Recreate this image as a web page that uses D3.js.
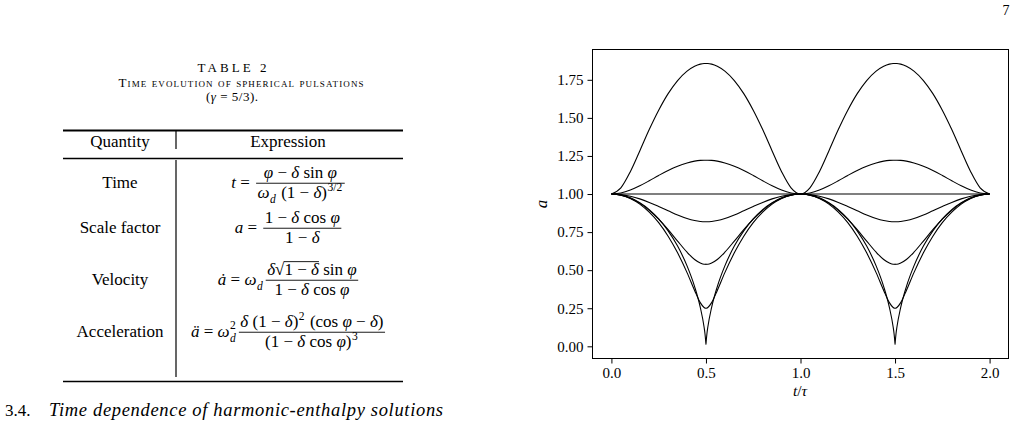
<!DOCTYPE html>
<html>
<head>
  <meta charset="UTF-8">
  <style>
    body { margin: 0; background: #fff; }
    svg text { font-family: "Liberation Serif", "Times New Roman", serif; fill: #000; }
  </style>
</head>
<body>
<div id="page_div"></div>
<script src="https://d3js.org/d3.v7.min.js"></script>
<script>

// ---- chart data: scale factor a against t/tau, one period ----
const tGrid = [0, 0.05, 0.1, 0.15, 0.2, 0.25, 0.3, 0.35, 0.4, 0.44, 0.47, 0.49, 0.495, 0.499, 0.5,
               0.501, 0.505, 0.51, 0.53, 0.56, 0.6, 0.65, 0.7, 0.75, 0.8, 0.85, 0.9, 0.95, 1];
const periods = [0, 1];

const aDelta030 = [1, 1.041, 1.147, 1.283, 1.423, 1.550, 1.659, 1.745, 1.807, 1.839, 1.853, 1.857, 1.857, 1.857, 1.857,
                   1.857, 1.857, 1.857, 1.853, 1.839, 1.807, 1.745, 1.659, 1.550, 1.423, 1.283, 1.147, 1.041, 1];
const aDelta010 = [1, 1.007, 1.026, 1.054, 1.087, 1.122, 1.155, 1.183, 1.204, 1.216, 1.221, 1.222, 1.222, 1.222, 1.222,
                   1.222, 1.222, 1.222, 1.221, 1.216, 1.204, 1.183, 1.155, 1.122, 1.087, 1.054, 1.026, 1.007, 1];
const aDelta000 = [1, 1, 1, 1, 1, 1, 1, 1, 1, 1, 1, 1, 1, 1, 1,
                   1, 1, 1, 1, 1, 1, 1, 1, 1, 1, 1, 1, 1, 1];
const aDeltaM010 = [1, 0.996, 0.985, 0.968, 0.945, 0.918, 0.890, 0.862, 0.839, 0.826, 0.820, 0.818, 0.818, 0.818, 0.818,
                    0.818, 0.818, 0.818, 0.820, 0.826, 0.839, 0.862, 0.890, 0.918, 0.945, 0.968, 0.985, 0.996, 1];
const aDeltaM030 = [1, 0.993, 0.973, 0.940, 0.893, 0.835, 0.766, 0.691, 0.618, 0.570, 0.547, 0.539, 0.539, 0.539, 0.538,
                    0.539, 0.539, 0.539, 0.547, 0.570, 0.618, 0.691, 0.766, 0.835, 0.893, 0.940, 0.973, 0.993, 1];
const aDeltaM060 = [1, 0.993, 0.971, 0.934, 0.881, 0.812, 0.723, 0.614, 0.484, 0.367, 0.287, 0.255, 0.251, 0.250, 0.250,
                    0.250, 0.251, 0.255, 0.287, 0.367, 0.484, 0.614, 0.723, 0.812, 0.881, 0.934, 0.971, 0.993, 1];
const aDeltaM100 = [1, 0.994, 0.975, 0.943, 0.898, 0.837, 0.758, 0.658, 0.528, 0.392, 0.256, 0.127, 0.081, 0.028, 0.012,
                    0.028, 0.081, 0.127, 0.256, 0.392, 0.528, 0.658, 0.758, 0.837, 0.898, 0.943, 0.975, 0.994, 1];
const curves = [aDelta030, aDelta010, aDelta000, aDeltaM010, aDeltaM030, aDeltaM060, aDeltaM100];

const xTicks = [0, 0.5, 1, 1.5, 2];
const yTicks = [0, 0.25, 0.5, 0.75, 1, 1.25, 1.5, 1.75];

// ---- table text ----
const pageNumber = "7";
const tableTitle = "TABLE 2";
const tableCaption = "Time evolution of spherical pulsations";
const headers = ["Quantity", "Expression"];
const rowNames = ["Time", "Scale factor", "Velocity", "Acceleration"];
const sectionNumber = "3.4.";
const sectionTitle = "Time dependence of harmonic-enthalpy solutions";

// math pieces: {t, i} text (i = italic), {sub}/{sup} scripts, {sqrt: [...]}
const rowMath = [
  { lhs: [{t: "t", i: 1}, {t: " = "}],
    num: [{t: "φ", i: 1}, {t: " − "}, {t: "δ", i: 1}, {t: " sin "}, {t: "φ", i: 1}],
    den: [{t: "ω", i: 1}, {sub: "d"}, {t: " (1 − "}, {t: "δ", i: 1}, {t: ")"}, {sup: "3/2"}] },
  { lhs: [{t: "a", i: 1}, {t: " = "}],
    num: [{t: "1 − "}, {t: "δ", i: 1}, {t: " cos "}, {t: "φ", i: 1}],
    den: [{t: "1 − "}, {t: "δ", i: 1}] },
  { lhs: [{t: "ȧ", i: 1}, {t: " = "}, {t: "ω", i: 1}, {sub: "d"}],
    num: [{t: "δ", i: 1}, {sqrt: [{t: "1 − "}, {t: "δ", i: 1}]}, {t: " sin "}, {t: "φ", i: 1}],
    den: [{t: "1 − "}, {t: "δ", i: 1}, {t: " cos "}, {t: "φ", i: 1}] },
  { lhs: [{t: "ä", i: 1}, {t: " = "}, {t: "ω", i: 1}, {sub: "d", sup: "2"}],
    num: [{t: "δ", i: 1}, {t: " (1 − "}, {t: "δ", i: 1}, {t: ")"}, {sup: "2"}, {t: " (cos "}, {t: "φ", i: 1}, {t: " − "}, {t: "δ", i: 1}, {t: ")"}],
    den: [{t: "(1 − "}, {t: "δ", i: 1}, {t: " cos "}, {t: "φ", i: 1}, {t: ")"}, {sup: "3"}] }
];

const width = 1023, height = 423;
const fs = 17;

let svg = d3.select("#page_div")
    .append("svg")
    .attr("width", width)
    .attr("height", height)
    .attr("font-family", "Liberation Serif, serif");

// page number
svg.append("text").attr("x", 1006).attr("y", 15).attr("text-anchor", "middle")
    .attr("font-size", 14).text(pageNumber);

// ---------- table ----------
let table = svg.append("g").attr("id", "table");

table.append("text").attr("x", 232).attr("y", 72).attr("text-anchor", "middle")
    .attr("font-size", 13).attr("textLength", 69).attr("lengthAdjust", "spacing").text(tableTitle);
table.append("text").attr("x", 241).attr("y", 86.5).attr("text-anchor", "middle")
    .attr("font-size", 13).attr("textLength", 245).attr("lengthAdjust", "spacing")
    .style("font-variant", "small-caps").text(tableCaption);
let gam = table.append("text").attr("x", 232).attr("y", 101).attr("text-anchor", "middle")
    .attr("font-size", 13).attr("textLength", 52).attr("lengthAdjust", "spacing");
gam.append("tspan").text("(");
gam.append("tspan").attr("font-style", "italic").text("γ");
gam.append("tspan").text(" = 5/3).");

// rules
table.append("line").attr("x1", 63).attr("x2", 403).attr("y1", 130.5).attr("y2", 130.5)
    .attr("stroke", "#000").attr("stroke-width", 2);
table.append("line").attr("x1", 63).attr("x2", 403).attr("y1", 158.5).attr("y2", 158.5)
    .attr("stroke", "#000").attr("stroke-width", 1.3);
table.append("line").attr("x1", 63).attr("x2", 403).attr("y1", 381.5).attr("y2", 381.5)
    .attr("stroke", "#000").attr("stroke-width", 1.5);
table.append("line").attr("x1", 176).attr("x2", 176).attr("y1", 131).attr("y2", 149)
    .attr("stroke", "#000").attr("stroke-width", 1.2);
table.append("line").attr("x1", 176).attr("x2", 176).attr("y1", 160).attr("y2", 377)
    .attr("stroke", "#000").attr("stroke-width", 1.2);

// header
table.append("text").attr("x", 120).attr("y", 147).attr("text-anchor", "middle")
    .attr("font-size", fs).text(headers[0]);
table.append("text").attr("x", 288).attr("y", 147).attr("text-anchor", "middle")
    .attr("font-size", fs).text(headers[1]);

// lay pieces left to right, return end x
function placeRun(g, parts, size, x) {
  parts.forEach(p => {
    if (p.sqrt) {
      let r = g.append("text").attr("x", x).attr("y", 0).attr("font-size", size).text("√");
      x += r.node().getComputedTextLength();
      let x0 = x;
      x = placeRun(g, p.sqrt, size, x);
      g.append("line").attr("x1", x0 - 0.5).attr("x2", x).attr("y1", -size * 0.8).attr("y2", -size * 0.8)
        .attr("stroke", "#000").attr("stroke-width", 0.9);
      return;
    }
    if (p.sub !== undefined || p.sup !== undefined) {
      let w = 0;
      if (p.sub !== undefined) {
        let s = g.append("text").attr("x", x + 0.5).attr("y", size * 0.3).attr("font-size", size * 0.68)
          .attr("font-style", "italic").text(p.sub);
        w = Math.max(w, s.node().getComputedTextLength());
      }
      if (p.sup !== undefined) {
        let s = g.append("text").attr("x", x + 0.5).attr("y", -size * (p.sub !== undefined ? 0.5 : 0.42))
          .attr("font-size", size * 0.68).text(p.sup);
        w = Math.max(w, s.node().getComputedTextLength());
      }
      x += w + 1.5;
      return;
    }
    let t = g.append("text").attr("x", x).attr("y", 0).attr("font-size", size)
      .attr("font-style", p.i ? "italic" : "normal").attr("xml:space", "preserve")
      .style("white-space", "pre").text(p.t);
    x += t.node().getComputedTextLength();
  });
  return x;
}

const rowBaselines = [188, 233, 285, 337];
const colCenter = 288;

rowMath.forEach((m, k) => {
  let yb = rowBaselines[k];
  table.append("text").attr("x", 120).attr("y", yb).attr("text-anchor", "middle")
      .attr("font-size", fs).text(rowNames[k]);

  let g = table.append("g");
  let lhsEnd = placeRun(g, m.lhs, fs, 0);
  let axisY = -fs * 0.28;
  let gn = g.append("g"), gd = g.append("g");
  let wn = placeRun(gn, m.num, fs, 0);
  let wd = placeRun(gd, m.den, fs, 0);
  let w = Math.max(wn, wd) + 3;
  let xs = lhsEnd + 2;
  gn.attr("transform", `translate(${xs + (w - wn) / 2},${axisY - 5})`);
  gd.attr("transform", `translate(${xs + (w - wd) / 2},${axisY + 15})`);
  g.append("line").attr("x1", xs).attr("x2", xs + w).attr("y1", axisY).attr("y2", axisY)
    .attr("stroke", "#000").attr("stroke-width", 0.9);
  let total = xs + w;
  g.attr("transform", `translate(${colCenter - total / 2},${yb})`);
});

// section heading below the table
svg.append("text").attr("x", 5).attr("y", 416).attr("font-size", fs).text(sectionNumber);
svg.append("text").attr("x", 49).attr("y", 416).attr("font-size", 18.5).attr("font-style", "italic")
    .attr("textLength", 394).attr("lengthAdjust", "spacing").text(sectionTitle);

// ---------- chart ----------
let x = d3.scaleLinear().domain([-0.1, 2.1]).range([592.5, 1008.5]);
let y = d3.scaleLinear().domain([-0.08, 1.949]).range([358.5, 49.5]);

let chart = svg.append("g").attr("id", "chart");

let line = d3.line()
    .x(d => x(d[0]))
    .y(d => y(d[1]))
    .curve(d3.curveMonotoneX);

curves.forEach(vals => {
  let pts = [];
  periods.forEach((p, j) => {
    tGrid.forEach((t, i) => {
      if (j > 0 && i === 0) return;
      pts.push([t + p, vals[i]]);
    });
  });
  chart.append("path")
      .datum(pts)
      .attr("fill", "none")
      .attr("stroke", "#000")
      .attr("stroke-width", 1.1)
      .attr("d", line);
});

// frame
chart.append("rect")
    .attr("x", x.range()[0]).attr("y", y.range()[1])
    .attr("width", x.range()[1] - x.range()[0])
    .attr("height", y.range()[0] - y.range()[1])
    .attr("fill", "none").attr("stroke", "#000").attr("stroke-width", 1);

let xAxis = chart.append("g")
    .attr("transform", `translate(0,${y.range()[0]})`)
    .call(d3.axisBottom(x).tickValues(xTicks).tickSize(5).tickPadding(4).tickFormat(d3.format(".1f")));
let yAxis = chart.append("g")
    .attr("transform", `translate(${x.range()[0]},0)`)
    .call(d3.axisLeft(y).tickValues(yTicks).tickSize(5).tickPadding(4).tickFormat(d3.format(".2f")));

[xAxis, yAxis].forEach(a => {
  a.attr("font-family", "Liberation Serif, serif");
  a.select(".domain").remove();
  a.selectAll("line").attr("stroke", "#000");
  a.selectAll("text").attr("font-size", 15).attr("fill", "#000");
});

// axis labels
let xl = chart.append("text").attr("x", 800).attr("y", 395.5).attr("text-anchor", "middle").attr("font-size", 15.5);
xl.append("tspan").attr("font-style", "italic").text("t");
xl.append("tspan").text("/");
xl.append("tspan").attr("font-style", "italic").text("τ");

chart.append("text")
    .attr("transform", "translate(547,204) rotate(-90)")
    .attr("text-anchor", "middle").attr("font-size", 17).attr("font-style", "italic")
    .text("a");

</script>
</body>
</html>
